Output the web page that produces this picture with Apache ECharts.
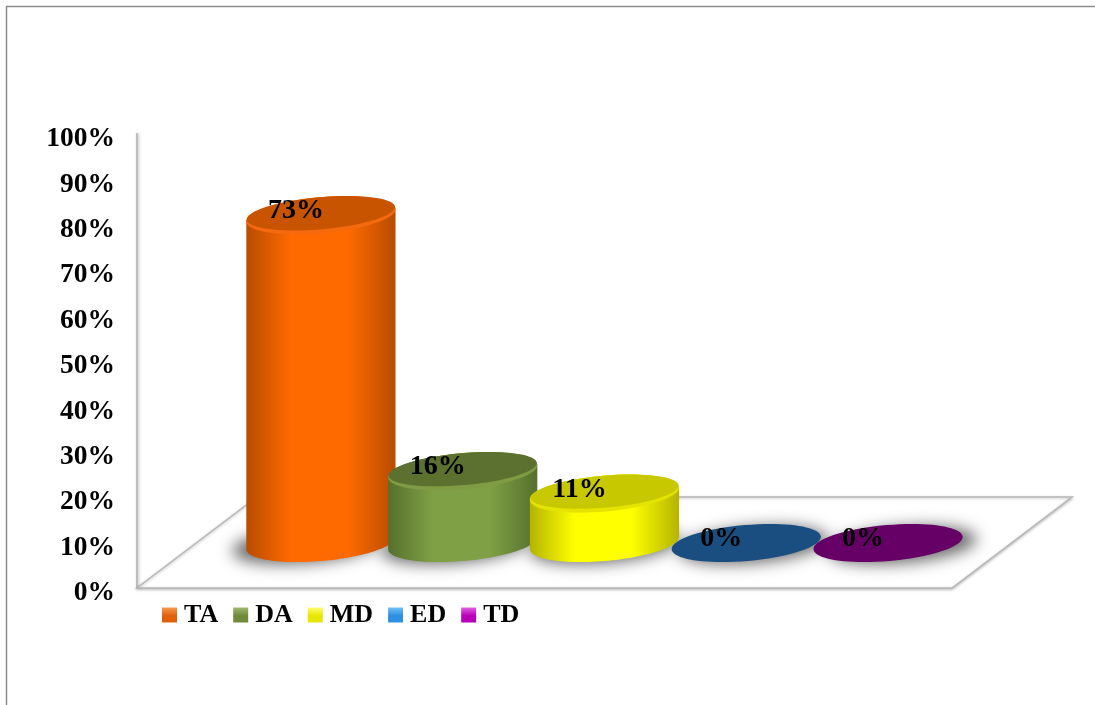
<!DOCTYPE html>
<html>
<head>
<meta charset="utf-8">
<title>TA DA MD ED TD</title>
<style>
  html, body { margin: 0; padding: 0; background: #fff; }
  #chart { width: 1095px; height: 705px; }
</style>
<script src="https://cdn.jsdelivr.net/npm/echarts@6/dist/echarts.min.js"></script>
</head>
<body>
<div id="chart"></div>
<script>
// Share of each class, in percent
const categories = ['TA', 'DA', 'MD', 'ED', 'TD'];
const percentages = [73, 16, 11, 0, 0];

// Cylinder shading: side edge, side centre, top face, top rim
const sideEdge = ['#b84c00', '#55702c', '#b4b400', '#1a4e80', '#660066'];
const sideCentre = ['#ff6a00', '#80a045', '#ffff00', '#1a4e80', '#660066'];
const topFace = ['#c85400', '#5c7030', '#c8c800', '#1a4e80', '#660066'];
const topRim = ['#f56a0c', '#7f9c45', '#e4e400', '#1a4e80', '#660066'];

// Legend swatches: highlight, body
const swatchLight = ['#f59a50', '#a0b870', '#ffff70', '#70c0f5', '#e060e0'];
const swatchBody = ['#e0600c', '#6f8a3a', '#e6e600', '#2f8fe0', '#b800b8'];

const SERIF = '"Liberation Serif", "Times New Roman", serif';
const TILT = -5 * Math.PI / 180;   // screen-space lean of the elliptical caps
const RADIUS_X = 0.528;            // horizontal radius as a share of the band
const RADIUS_Y = 18;
const FLOOR_DEPTH = [120, -91];    // how far the floor recedes
const SHADOW_THROW = 2000;         // caster sits off-canvas so only its blur shows

function ellipsePoint(cx, cy, rx, ry, t) {
  const c = Math.cos(t), s = Math.sin(t);
  return [
    cx + rx * c * Math.cos(TILT) - ry * s * Math.sin(TILT),
    cy + rx * c * Math.sin(TILT) + ry * s * Math.cos(TILT)
  ];
}

function capEllipse(cx, cy, rx, ry, fill) {
  return {
    type: 'ellipse',
    originX: cx,
    originY: cy,
    rotation: -TILT,
    shape: { cx: cx, cy: cy, rx: rx, ry: ry },
    style: { fill: fill }
  };
}

function renderFloor(params, api) {
  const a = api.coord([0, 0]);
  const b = api.coord([1, 0]);
  return {
    type: 'polygon',
    shape: {
      points: [
        a, b,
        [b[0] + FLOOR_DEPTH[0], b[1] + FLOOR_DEPTH[1]],
        [a[0] + FLOOR_DEPTH[0], a[1] + FLOOR_DEPTH[1]]
      ]
    },
    style: {
      fill: '#fff',
      stroke: '#b8b8b8',
      lineWidth: 1.5,
      shadowBlur: 3,
      shadowColor: 'rgba(0,0,0,0.25)',
      shadowOffsetY: 1
    }
  };
}

function renderShadow(params, api) {
  const i = api.value(0);
  const base = api.coord([i, 0]);
  const rx = api.size([1, 0])[0] * RADIUS_X;
  const el = capEllipse(base[0] + (i - 2) * 7 - SHADOW_THROW, base[1] + 2, rx, RADIUS_Y, '#000');
  el.style.shadowBlur = 15;
  el.style.shadowOffsetX = SHADOW_THROW;
  el.style.shadowColor = 'rgba(70,70,70,0.8)';
  return el;
}

function renderCylinder(params, api) {
  const i = api.value(0);
  const v = api.value(1);
  const base = api.coord([i, 0]);
  const top = api.coord([i, v]);
  const rx = api.size([1, 0])[0] * RADIUS_X;
  const ry = RADIUS_Y;
  const children = [];

  if (v > 0) {
    // Side wall: front arc of the base, then back across the top cap
    const t0 = Math.atan2(-ry * Math.sin(TILT), rx * Math.cos(TILT));
    const pts = [];
    const steps = 60;
    for (let k = 0; k <= steps; k++) {
      pts.push(ellipsePoint(base[0], base[1], rx, ry, t0 + Math.PI * k / steps));
    }
    for (let k = 0; k <= steps; k++) {
      pts.push(ellipsePoint(top[0], top[1], rx, ry, t0 + Math.PI + Math.PI * k / steps));
    }
    children.push({
      type: 'polygon',
      shape: { points: pts },
      style: {
        fill: new echarts.graphic.LinearGradient(0, 0, 1, 0, [
          { offset: 0, color: sideEdge[i] },
          { offset: 0.3, color: sideCentre[i] },
          { offset: 0.68, color: sideCentre[i] },
          { offset: 1, color: sideEdge[i] }
        ])
      }
    });
    // Lighter rim shows only along the front of the cap
    children.push(capEllipse(top[0], top[1], rx, ry, topRim[i]));
    children.push(capEllipse(top[0], top[1] - 2, rx - 0.5, ry - 2, topFace[i]));
  } else {
    children.push(capEllipse(top[0], top[1], rx, ry, topFace[i]));
  }

  children.push({
    type: 'text',
    style: {
      text: v + '%',
      x: top[0] - 25,
      y: top[1] - 4,
      align: 'center',
      verticalAlign: 'middle',
      fill: '#000',
      font: 'bold 28px ' + SERIF
    }
  });
  return { type: 'group', children: children };
}

const cylinderSeries = categories.map(function (name, i) {
  return {
    name: name,
    type: 'custom',
    xAxisIndex: 1,
    yAxisIndex: 1,
    z: 4 + i,
    clip: false,
    itemStyle: { color: swatchBody[i] },
    data: [[i, percentages[i]]],
    renderItem: renderCylinder
  };
});

const option = {
  animation: false,
  backgroundColor: '#fff',
  graphic: [{
    type: 'polyline',
    silent: true,
    shape: { points: [[6.5, 705], [6.5, 6.5], [1095, 6.5]] },
    style: { stroke: '#8c8c8c', lineWidth: 1.5, fill: 'none' }
  }],
  legend: {
    left: 157,
    top: 597,
    itemWidth: 15,
    itemHeight: 15,
    itemGap: 15,
    icon: 'rect',
    selectedMode: false,
    textStyle: {
      fontFamily: SERIF,
      fontWeight: 'bold',
      fontSize: 26,
      color: '#000',
      padding: [0, 0, 0, 2]
    },
    data: categories.map(function (name, i) {
      return {
        name: name,
        itemStyle: {
          color: new echarts.graphic.LinearGradient(0, 0, 0, 1, [
            { offset: 0, color: swatchLight[i] },
            { offset: 0.55, color: swatchBody[i] },
            { offset: 1, color: swatchBody[i] }
          ])
        }
      };
    })
  },
  grid: [
    { left: 137, top: 134, width: 815, height: 454 },   // y axis and floor
    { left: 250, top: 94, width: 709, height: 449 }     // cylinders standing on the floor
  ],
  xAxis: [
    { type: 'value', gridIndex: 0, min: 0, max: 1, show: false },
    { type: 'category', gridIndex: 1, data: categories, show: false }
  ],
  yAxis: [
    {
      type: 'value',
      gridIndex: 0,
      min: 0,
      max: 100,
      interval: 10,
      axisLine: {
        show: true,
        lineStyle: {
          color: '#bdbdbd',
          width: 2,
          shadowBlur: 3,
          shadowColor: 'rgba(0,0,0,0.25)',
          shadowOffsetX: 1
        }
      },
      axisTick: { show: false },
      splitLine: { show: false },
      axisLabel: {
        formatter: '{value}%',
        margin: 22,
        verticalAlign: 'top',
        lineHeight: 10,
        fontFamily: SERIF,
        fontWeight: 'bold',
        fontSize: 27.5,
        color: '#000'
      }
    },
    { type: 'value', gridIndex: 1, min: 0, max: 100, show: false }
  ],
  series: [
    {
      name: 'floor',
      type: 'custom',
      xAxisIndex: 0,
      yAxisIndex: 0,
      z: 1,
      clip: false,
      silent: true,
      data: [[0, 0]],
      renderItem: renderFloor
    },
    {
      name: 'groundShadow',
      type: 'custom',
      xAxisIndex: 1,
      yAxisIndex: 1,
      z: 2,
      clip: false,
      silent: true,
      data: categories.map(function (name, i) { return [i, 0]; }),
      renderItem: renderShadow
    }
  ].concat(cylinderSeries)
};

echarts.init(document.getElementById('chart'), null, { renderer: 'canvas' }).setOption(option);
</script>
</body>
</html>
